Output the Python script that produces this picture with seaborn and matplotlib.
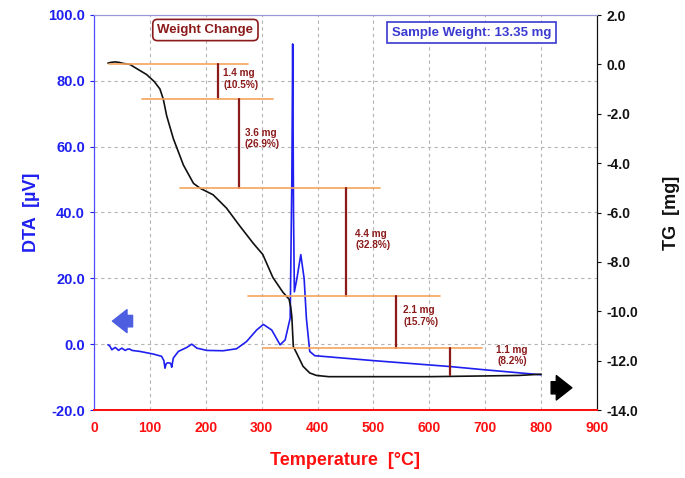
import numpy as np
import pandas as pd
import matplotlib
matplotlib.use("Agg")
import matplotlib.pyplot as plt
import seaborn as sns

# DTA curve (left axis, uV)
dta_temp = [25, 28, 32, 35, 38, 41, 44, 47, 50, 53, 56, 60, 64, 68, 82, 106, 121, 125,
            127, 129, 131, 136, 138, 139, 142, 151, 166, 175, 184, 202, 231, 255, 273,
            291, 303, 318, 333, 342, 351, 354, 355.5, 357, 358.5, 363, 370, 376, 380,
            386, 395, 500, 637, 700, 800]
dta_uv = [-0.2, -0.5, -1.7, -1.3, -1.0, -1.4, -1.9, -1.5, -1.2, -1.6, -1.9, -1.5, -1.5,
          -1.9, -2.2, -3.0, -3.7, -5.0, -7.3, -6.0, -5.7, -5.7, -6.2, -7.0, -4.2, -2.2,
          -1.0, 0.0, -1.2, -1.9, -2.0, -1.4, 0.8, 4.3, 6.0, 4.3, -0.2, 1.3, 7.9, 50.0,
          91.2, 40.0, 15.9, 19.9, 27.2, 19.9, 7.9, -2.2, -3.5, -5.0, -6.8, -7.8, -9.3]

# TG curve (right axis, mg)
tg_temp = [25, 30, 38, 45, 52, 64, 80, 94, 108, 118, 124, 130, 142, 160, 178, 190, 213,
           237, 261, 285, 302, 320, 338, 349, 352, 354, 356.6, 362.6, 374, 386, 398, 420,
           500, 600, 700, 760, 800]
tg_mg = [0.05, 0.08, 0.1, 0.08, 0.04, 0.0, -0.22, -0.41, -0.7, -1.0, -1.41, -2.08, -3.01,
         -4.08, -4.82, -5.02, -5.28, -5.82, -6.55, -7.25, -7.7, -8.63, -9.23, -9.51, -9.83,
         -10.23, -11.43, -11.7, -12.23, -12.5, -12.6, -12.65, -12.65, -12.65, -12.62,
         -12.6, -12.55]

# weight change steps
loss_mg = [1.4, 3.6, 4.4, 2.1, 1.1]
loss_pct = [10.5, 26.9, 32.8, 15.7, 8.2]
level_start = [27, 86, 154, 275, 302]
level_end = [275, 320, 512, 619, 694]
marker_temp = [222, 259, 451, 540, 637]
label_temp = [231, 270, 467, 553, 748]
label_mg = [-0.6, -3.0, -7.1, -10.2, -11.8]
label_ha = ["left", "left", "left", "left", "center"]

x_ticks = list(range(0, 1000, 100))
dta_ticks = [-20, 0, 20, 40, 60, 80, 100]
tg_ticks = [2, 0, -2, -4, -6, -8, -10, -12, -14]

sns.set_style("white")
plt.rcParams["font.family"] = ["Liberation Sans", "DejaVu Sans"]
plt.rcParams["font.weight"] = "bold"
plt.rcParams["axes.unicode_minus"] = False

blue = "#1f1ff0"
red = "#ff1010"
darkred = "#8b1a1a"
orange = "#f5a45c"

fig = plt.figure(figsize=(6.85, 4.78), dpi=100)
ax = fig.add_axes([94 / 685, 1 - 410 / 478, (597 - 94) / 685, (410 - 15) / 478])
ax2 = ax.twinx()

dta = pd.DataFrame({"temp": dta_temp, "dta": dta_uv})
tg = pd.DataFrame({"temp": tg_temp, "tg": tg_mg})

ax.grid(True, color="#b5b5b5", linestyle=(0, (3, 3)), linewidth=0.8)
sns.lineplot(data=dta, x="temp", y="dta", ax=ax, color=blue, lw=1.2,
             sort=False, estimator=None)
sns.lineplot(data=tg, x="temp", y="tg", ax=ax2, color="#111111", lw=1.2,
             sort=False, estimator=None)

# weight change markers
levels = [0.0]
for m in loss_mg:
    levels.append(round(levels[-1] - m, 2))
for i in range(len(loss_mg)):
    ax2.plot([level_start[i], level_end[i]], [levels[i], levels[i]], color=orange, lw=1.2)
    ax2.plot([marker_temp[i], marker_temp[i]], [levels[i], levels[i + 1]],
             color=darkred, lw=1.6)
    ax2.text(label_temp[i], label_mg[i], f"{loss_mg[i]} mg\n({loss_pct[i]}%)",
             color=darkred, fontsize=7.2, fontweight="bold", ha=label_ha[i],
             va="center", linespacing=1.2)

ax.set_xlim(0, 900)
ax.set_ylim(-20, 100)
ax2.set_ylim(-14, 2)
ax.set_xticks(x_ticks)
ax.set_yticks(dta_ticks)
ax.set_yticklabels([f"{v:.1f}" for v in dta_ticks])
ax2.set_yticks(tg_ticks)
ax2.set_yticklabels([f"{v:.1f}" for v in tg_ticks])

ax.tick_params(axis="x", colors=red, labelsize=10, length=3, pad=5)
ax.tick_params(axis="y", colors=blue, labelsize=10.5, length=3)
ax2.tick_params(axis="y", colors="#111111", labelsize=10, length=3)
for lab in ax.get_xticklabels() + ax.get_yticklabels() + ax2.get_yticklabels():
    lab.set_fontweight("bold")

ax.set_xlabel("Temperature  [°C]", color=red, fontsize=13, fontweight="bold", labelpad=12)
ax.set_ylabel("DTA  [µV]", color=blue, fontsize=13, fontweight="bold", labelpad=6)
ax2.set_ylabel("TG  [mg]", color="#111111", fontsize=13, fontweight="bold", labelpad=18)

for a in (ax, ax2):
    a.spines["left"].set_color("#4a4aff")
    a.spines["bottom"].set_color(red)
    a.spines["bottom"].set_linewidth(1.4)
    a.spines["right"].set_color("#111111")
    a.spines["top"].set_color("#9a9ad8")

# boxes
ax.text(0.126, 0.962, "Weight Change", transform=ax.transAxes, color=darkred,
        fontsize=9.5, fontweight="bold", ha="left", va="center",
        bbox=dict(boxstyle="round,pad=0.35", fc="white", ec=darkred, lw=1.2))
ax.text(0.592, 0.955, "Sample Weight: 13.35 mg", transform=ax.transAxes, color="#3a3ad0",
        fontsize=9.5, fontweight="bold", ha="left", va="center",
        bbox=dict(boxstyle="square,pad=0.35", fc="white", ec="#3a3ad0", lw=1.2))

# direction arrows
ax.annotate("", xy=(28, 7.0), xytext=(74, 7.0),
            arrowprops=dict(arrowstyle="simple,head_length=0.7,head_width=1.1,tail_width=0.55",
                            color="#4d5ee0", mutation_scale=15))
ax2.annotate("", xy=(860, -13.1), xytext=(813, -13.1),
             arrowprops=dict(arrowstyle="simple,head_length=0.7,head_width=1.1,tail_width=0.55",
                             color="black", mutation_scale=16))

fig.savefig("out.png", dpi=100)
